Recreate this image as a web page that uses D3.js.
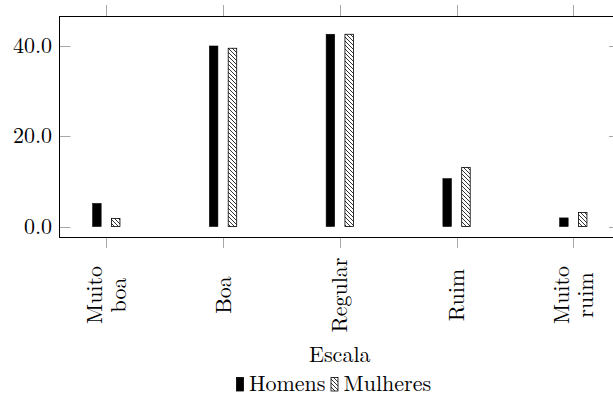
<!DOCTYPE html>
<html>
<head>
<meta charset="utf-8">
<script src="https://cdn.jsdelivr.net/npm/d3@7"></script>
<style>
  body { margin: 0; background: #fff; }
</style>
</head>
<body>
<svg></svg>
<script>
var categories = ["Muito boa", "Boa", "Regular", "Ruim", "Muito ruim"];
var homens = [5.1, 40.0, 42.6, 10.6, 1.9];
var mulheres = [1.8, 39.5, 42.6, 13.1, 3.1];
var yTicks = [0, 20, 40];
var seriesNames = ["Homens", "Mulheres"];

var svgWidth = 613,
  svgHeight = 396;

var fontName = "Latin Modern Roman";
var fontSize = 22;

var plot = { left: 59.5, right: 620, top: 16.5, bottom: 237.5 };

var svg = d3.select("svg").attr("width", svgWidth).attr("height", svgHeight);

// hatch pattern for Mulheres (north west lines)
var defs = svg.append("defs");
var pat = defs.append("pattern")
  .attr("id", "hatch")
  .attr("patternUnits", "userSpaceOnUse")
  .attr("width", 4)
  .attr("height", 4);
pat.append("rect").attr("width", 4).attr("height", 4).attr("fill", "#fff");
pat.selectAll("line")
  .data([[0, 0, 4, 4], [-1, 3, 1, 5], [3, -1, 5, 1]])
  .enter()
  .append("line")
  .attr("x1", function (d) { return d[0]; })
  .attr("y1", function (d) { return d[1]; })
  .attr("x2", function (d) { return d[2]; })
  .attr("y2", function (d) { return d[3]; })
  .attr("stroke", "#000")
  .attr("stroke-width", 0.8);

var x = d3.scalePoint().domain(categories).range([106.3, 573.3]);
var y = d3.scaleLinear().domain([0, 40]).range([226.5, 46]);

var barWidth = 8.5,
  barOffset = 9.4;

// tick marks (grey)
var tickColor = "#a8a8a8";
[[5, plot.top], [plot.bottom, 248]].forEach(function (span) {
  svg.append("g")
    .selectAll("line")
    .data(categories)
    .enter()
    .append("line")
    .attr("x1", function (d) { return Math.round(x(d)) + 0.5; })
    .attr("x2", function (d) { return Math.round(x(d)) + 0.5; })
    .attr("y1", span[0])
    .attr("y2", span[1])
    .attr("stroke", tickColor);
});
[[plot.left, plot.left + 11], [plot.right - 11, plot.right]].forEach(function (span) {
  svg.append("g")
    .selectAll("line")
    .data(yTicks)
    .enter()
    .append("line")
    .attr("x1", span[0])
    .attr("x2", span[1])
    .attr("y1", function (d) { return Math.round(y(d)) + 0.5; })
    .attr("y2", function (d) { return Math.round(y(d)) + 0.5; })
    .attr("stroke", tickColor);
});

// bars
svg.append("g")
  .selectAll("rect")
  .data(homens)
  .enter()
  .append("rect")
  .attr("x", function (d, i) { return x(categories[i]) - barOffset - barWidth / 2; })
  .attr("y", function (d) { return y(d); })
  .attr("width", barWidth)
  .attr("height", function (d) { return y(0) - y(d); })
  .attr("fill", "#000")
  .attr("stroke", "#000")
  .attr("stroke-width", 0.6);

svg.append("g")
  .selectAll("rect")
  .data(mulheres)
  .enter()
  .append("rect")
  .attr("x", function (d, i) { return x(categories[i]) + barOffset - barWidth / 2; })
  .attr("y", function (d) { return y(d); })
  .attr("width", barWidth)
  .attr("height", function (d) { return y(0) - y(d); })
  .attr("fill", "url(#hatch)")
  .attr("stroke", "#000")
  .attr("stroke-width", 0.8);

// plot frame
svg.append("rect")
  .attr("x", plot.left)
  .attr("y", plot.top)
  .attr("width", plot.right - plot.left)
  .attr("height", plot.bottom - plot.top)
  .attr("fill", "none")
  .attr("stroke", "#000")
  .attr("stroke-width", 1);

// y tick labels
svg.append("g")
  .selectAll("text")
  .data(yTicks)
  .enter()
  .append("text")
  .attr("x", 52)
  .attr("y", function (d) { return y(d) + 7; })
  .attr("text-anchor", "end")
  .attr("font-family", fontName)
  .attr("font-size", fontSize)
  .text(function (d) { return d3.format(".1f")(d); });

// x tick labels, rotated, split in lines
var lineGap = 23.5;
svg.append("g")
  .selectAll("text")
  .data(categories)
  .enter()
  .append("text")
  .attr("transform", function (d) { return "translate(" + x(d) + ",295) rotate(-90)"; })
  .attr("text-anchor", "middle")
  .attr("font-family", fontName)
  .attr("font-size", fontSize)
  .each(function (d) {
    var words = d.split(" ");
    var t = d3.select(this);
    var first = 7.5 - (words.length - 1) * lineGap / 2;
    words.forEach(function (w, j) {
      t.append("tspan")
        .attr("x", 0)
        .attr("y", first + j * lineGap)
        .text(w);
    });
  });

// axis title
svg.append("text")
  .attr("x", (plot.left + plot.right) / 2)
  .attr("y", 361.5)
  .attr("text-anchor", "middle")
  .attr("font-family", fontName)
  .attr("font-size", fontSize)
  .text("Escala");

// legend
var legend = svg.append("g");
var lx = 236;
seriesNames.forEach(function (name, i) {
  legend.append("rect")
    .attr("x", lx + 0.5)
    .attr("y", 377.5)
    .attr("width", 7)
    .attr("height", 13.5)
    .attr("fill", i === 0 ? "#000" : "url(#hatch)")
    .attr("stroke", "#000")
    .attr("stroke-width", 0.8);
  var t = legend.append("text")
    .attr("x", lx + 13)
    .attr("y", 390.5)
    .attr("font-family", fontName)
    .attr("font-size", fontSize)
    .text(name);
  lx = lx + 13 + t.node().getComputedTextLength() + 5;
});
</script>
</body>
</html>
